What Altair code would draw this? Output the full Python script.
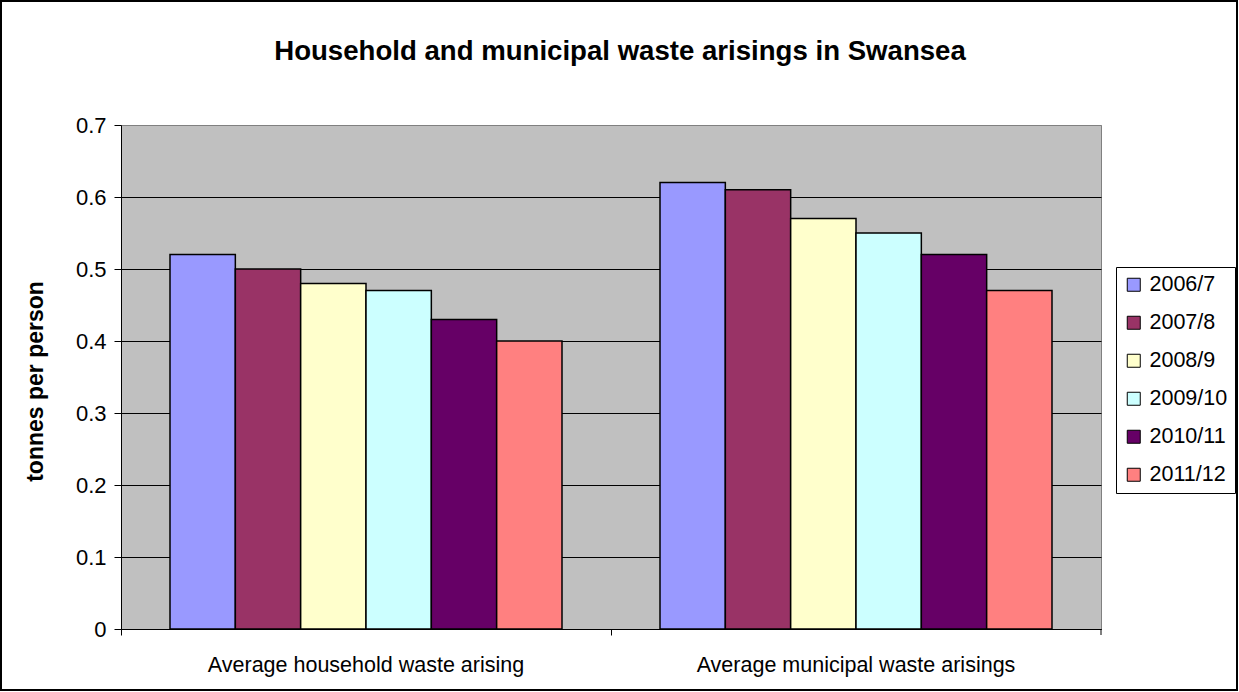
import altair as alt
import pandas as pd

categories = ["Average household waste arising", "Average municipal waste arisings"]
years = ["2006/7", "2007/8", "2008/9", "2009/10", "2010/11", "2011/12"]
household = [0.52, 0.50, 0.48, 0.47, 0.43, 0.40]
municipal = [0.62, 0.61, 0.57, 0.55, 0.52, 0.47]
colors = ["#9999FF", "#993366", "#FFFFCC", "#CCFFFF", "#660066", "#FF8080"]
y_ticks = [0, 0.1, 0.2, 0.3, 0.4, 0.5, 0.6, 0.7]

rows = []
for cat, vals in zip(categories, [household, municipal]):
    for yr, v in zip(years, vals):
        rows.append({"category": cat, "year": yr, "value": v})
df = pd.DataFrame(rows)

FONT = "Liberation Sans"

bars = alt.Chart(df).mark_bar(stroke="black", strokeWidth=1.5).encode(
    x=alt.X("category:N", sort=categories, title=None,
            scale=alt.Scale(paddingInner=0, paddingOuter=0),
            axis=alt.Axis(bandPosition=0, labelAngle=0, labelFontSize=21.5,
                          labelFont=FONT, labelColor="black", labelPadding=19,
                          labelLimit=600,
                          tickSize=6, tickColor="black", domainColor="black",
                          domainWidth=1, grid=False)),
    xOffset=alt.XOffset("year:N", sort=years,
                        scale=alt.Scale(paddingInner=0, paddingOuter=0.75)),
    y=alt.Y("value:Q", title="tonnes per person",
            scale=alt.Scale(domain=[0, 0.7], nice=False),
            axis=alt.Axis(values=y_ticks, format=".1~f", labelFontSize=22,
                          labelFont=FONT, labelColor="black", labelPadding=8,
                          tickSize=7, tickColor="black", domainColor="black",
                          grid=True,
                          gridColor={"condition": {"test": "datum.value >= 0.7", "value": "#808080"},
                                     "value": "black"},
                          gridWidth=1,
                          titleFont=FONT, titleFontSize=23, titleFontWeight="bold",
                          titleColor="black", titleAngle=270, titleX=-86, titleY=256,
                          titleAlign="center", titleBaseline="middle")),
    color=alt.Color("year:N", sort=years,
                    scale=alt.Scale(domain=years, range=colors),
                    legend=alt.Legend(title=None, orient="none", legendX=995, legendY=142,
                                      symbolType="square", symbolSize=169,
                                      symbolStrokeColor="black", symbolStrokeWidth=1,
                                      labelFontSize=21.5, labelFont=FONT, labelColor="black",
                                      rowPadding=15, padding=7, labelOffset=5,
                                      strokeColor="black", fillColor="white")),
)

end_tick = alt.Chart(alt.Data(values=[{}])).mark_rule(color="black", strokeWidth=1).encode(
    x=alt.value(980), y=alt.value(504), y2=alt.value(510)
)

border = alt.Chart(alt.Data(values=[{}])).mark_rect(fill=None, stroke="black", strokeWidth=2).encode(
    x=alt.value(-120), x2=alt.value(1116), y=alt.value(-124), y2=alt.value(565)
)

chart = alt.layer(bars, end_tick, border).properties(
    width=980, height=504,
    title=alt.TitleParams("Household and municipal waste arisings in Swansea",
                          font=FONT, fontSize=27.6, fontWeight="bold", color="black",
                          anchor="middle", dx=9, offset=0, dy=88, baseline="alphabetic"),
    autosize=alt.AutoSizeParams(type="none"),
    padding={"left": 121, "top": 125, "right": 138, "bottom": 63},
    background="white",
).configure_view(fill="#C0C0C0", stroke="#808080", strokeWidth=1)

chart.save("out.html", embed_options={"renderer": "svg", "actions": False})
